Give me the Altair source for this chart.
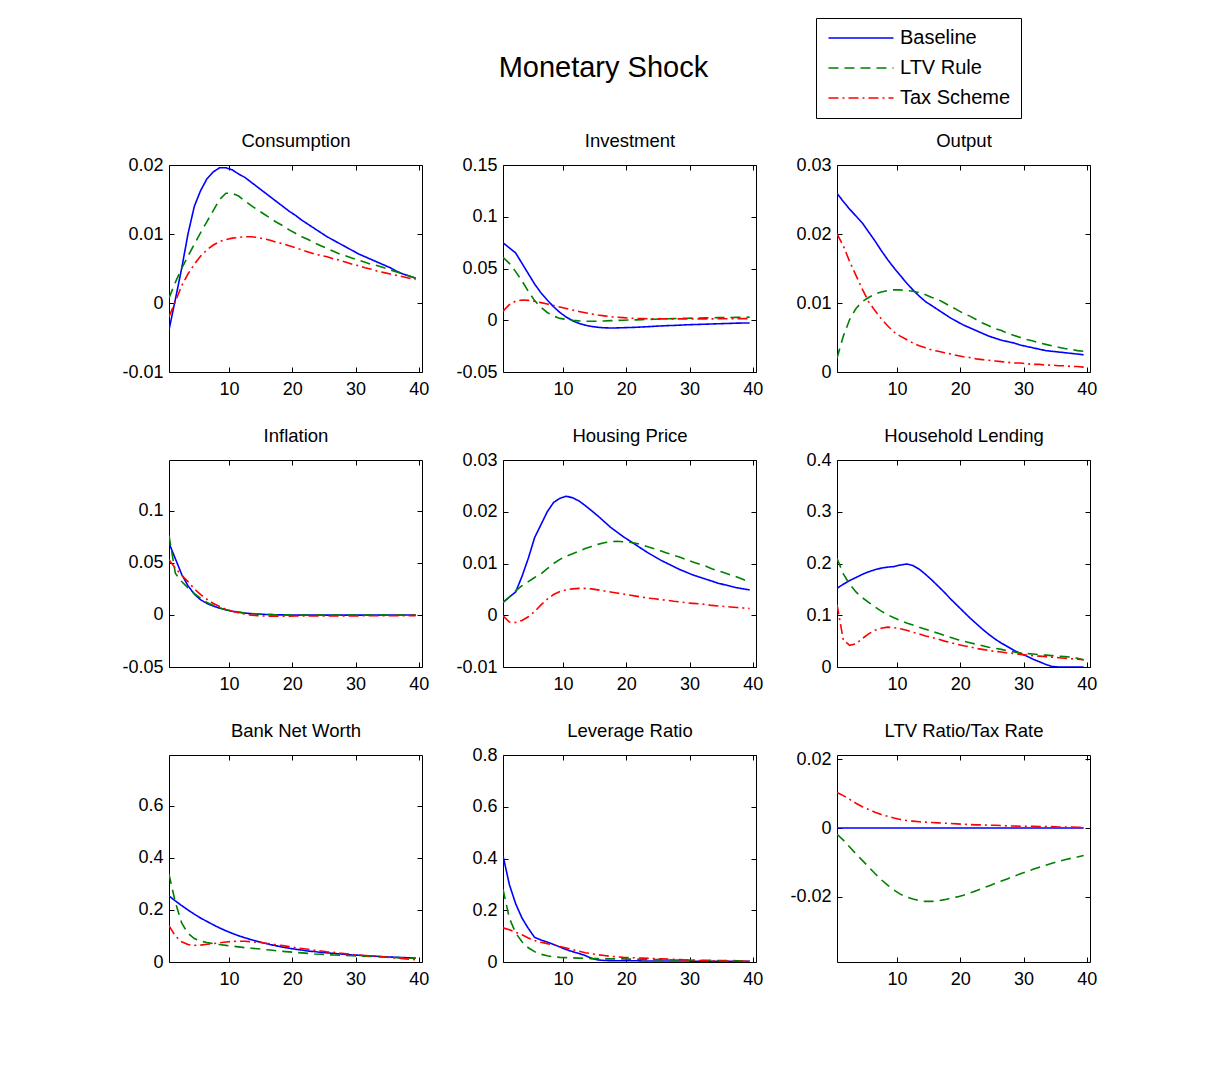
import altair as alt
import pandas as pd

FONT = "Liberation Sans"

periods = list(range(1, 41))
series_names = ["Baseline", "LTV Rule", "Tax Scheme"]
series_colors = ["#0000ff", "#008000", "#ff0000"]
series_dashes = [[1, 0], [10, 6], [10, 4, 2, 4]]
x_ticks = [10, 20, 30, 40]

panel_titles = ["Consumption", "Investment", "Output",
                "Inflation", "Housing Price", "Household Lending",
                "Bank Net Worth", "Leverage Ratio", "LTV Ratio/Tax Rate"]

y_domains = [[-0.01, 0.02], [-0.05, 0.15], [0, 0.03],
             [-0.05, 0.1487], [-0.01, 0.03], [0, 0.4],
             [0, 0.796], [0, 0.8], [-0.0389, 0.0212]]

y_ticks = [[-0.01, 0, 0.01, 0.02], [-0.05, 0, 0.05, 0.1, 0.15], [0, 0.01, 0.02, 0.03],
           [-0.05, 0, 0.05, 0.1], [-0.01, 0, 0.01, 0.02, 0.03], [0, 0.1, 0.2, 0.3, 0.4],
           [0, 0.2, 0.4, 0.6], [0, 0.2, 0.4, 0.6, 0.8], [-0.02, 0, 0.02]]

consumption_baseline = [-0.0039, 0.0005, 0.0050, 0.0100, 0.0140, 0.0163, 0.0180, 0.0190, 0.0196, 0.0196,
                        0.0193, 0.0187, 0.0182, 0.0175, 0.0168, 0.0161, 0.0154, 0.0147, 0.0140, 0.0133,
                        0.0127, 0.0120, 0.0114, 0.0108, 0.0102, 0.0096, 0.0091, 0.0086, 0.0081, 0.0076,
                        0.0071, 0.0067, 0.0063, 0.0059, 0.0055, 0.0051, 0.0046, 0.0042, 0.0039, 0.0036]
consumption_ltv = [0.0007, 0.0030, 0.0050, 0.0068, 0.0085, 0.0102, 0.0118, 0.0134, 0.0150, 0.0159,
                   0.0159, 0.0155, 0.0148, 0.0141, 0.0135, 0.0129, 0.0123, 0.0117, 0.0112, 0.0106,
                   0.0101, 0.0096, 0.0092, 0.0087, 0.0083, 0.0079, 0.0075, 0.0071, 0.0068, 0.0065,
                   0.0062, 0.0059, 0.0056, 0.0054, 0.0051, 0.0048, 0.0045, 0.0042, 0.0039, 0.0036]
consumption_tax = [-0.0020, 0.0002, 0.0025, 0.0042, 0.0056, 0.0068, 0.0077, 0.0084, 0.0089, 0.0092,
                   0.0094, 0.0095, 0.0096, 0.0096, 0.0095, 0.0093, 0.0091, 0.0088, 0.0086, 0.0083,
                   0.0080, 0.0077, 0.0074, 0.0071, 0.0069, 0.0067, 0.0064, 0.0062, 0.0059, 0.0056,
                   0.0054, 0.0051, 0.0049, 0.0046, 0.0044, 0.0042, 0.0040, 0.0038, 0.0036, 0.0034]

investment_baseline = [0.0748, 0.0700, 0.0650, 0.0550, 0.0450, 0.0350, 0.0265, 0.0195, 0.0130, 0.0075,
                       0.0030, -0.0005, -0.0030, -0.0048, -0.0060, -0.0068, -0.0073, -0.0075, -0.0074, -0.0072,
                       -0.0070, -0.0068, -0.0065, -0.0062, -0.0058, -0.0055, -0.0052, -0.0050, -0.0047, -0.0044,
                       -0.0042, -0.0040, -0.0038, -0.0036, -0.0034, -0.0032, -0.0030, -0.0028, -0.0027, -0.0026]
investment_ltv = [0.0608, 0.0550, 0.0470, 0.0380, 0.0280, 0.0190, 0.0125, 0.0075, 0.0040, 0.0018,
                  0.0008, 0.0000, -0.0006, -0.0009, -0.0010, -0.0009, -0.0007, -0.0004, -0.0002, 0.0000,
                  0.0002, 0.0004, 0.0006, 0.0008, 0.0010, 0.0012, 0.0014, 0.0016, 0.0018, 0.0019,
                  0.0021, 0.0022, 0.0023, 0.0024, 0.0025, 0.0026, 0.0027, 0.0028, 0.0029, 0.0030]
investment_tax = [0.0088, 0.0150, 0.0185, 0.0195, 0.0192, 0.0183, 0.0170, 0.0157, 0.0143, 0.0128,
                  0.0113, 0.0099, 0.0085, 0.0072, 0.0060, 0.0050, 0.0042, 0.0035, 0.0029, 0.0025,
                  0.0021, 0.0018, 0.0016, 0.0015, 0.0014, 0.0013, 0.0013, 0.0013, 0.0013, 0.0013,
                  0.0013, 0.0013, 0.0013, 0.0013, 0.0014, 0.0014, 0.0015, 0.0015, 0.0016, 0.0016]

output_baseline = [0.0259, 0.0247, 0.0236, 0.0226, 0.0216, 0.0203, 0.0190, 0.0176, 0.0163, 0.0151,
                   0.0140, 0.0129, 0.0119, 0.0110, 0.0102, 0.0096, 0.0090, 0.0084, 0.0078, 0.0073,
                   0.0068, 0.0064, 0.0060, 0.0056, 0.0052, 0.0049, 0.0046, 0.0044, 0.0042, 0.0039,
                   0.0037, 0.0035, 0.0033, 0.0031, 0.0030, 0.0029, 0.0028, 0.0027, 0.0026, 0.0025]
output_ltv = [0.0020, 0.0052, 0.0076, 0.0092, 0.0102, 0.0108, 0.0113, 0.0116, 0.0118, 0.0119,
              0.0119, 0.0118, 0.0117, 0.0115, 0.0112, 0.0108, 0.0105, 0.0100, 0.0095, 0.0090,
              0.0085, 0.0081, 0.0076, 0.0071, 0.0067, 0.0063, 0.0060, 0.0056, 0.0053, 0.0050,
              0.0047, 0.0045, 0.0042, 0.0040, 0.0038, 0.0036, 0.0034, 0.0033, 0.0031, 0.0030]
output_tax = [0.0200, 0.0183, 0.0160, 0.0140, 0.0120, 0.0102, 0.0089, 0.0077, 0.0067, 0.0058,
              0.0052, 0.0047, 0.0042, 0.0038, 0.0035, 0.0032, 0.0030, 0.0028, 0.0026, 0.0024,
              0.0022, 0.0021, 0.0019, 0.0018, 0.0017, 0.0016, 0.0015, 0.0014, 0.0013, 0.0013,
              0.0012, 0.0011, 0.0011, 0.0010, 0.0010, 0.0009, 0.0009, 0.0008, 0.0008, 0.0007]

inflation_baseline = [0.0690, 0.0540, 0.0390, 0.0280, 0.0200, 0.0145, 0.0110, 0.0085, 0.0065, 0.0048,
                      0.0035, 0.0025, 0.0018, 0.0012, 0.0008, 0.0005, 0.0003, 0.0001, 0.0000, -0.0001,
                      -0.0002, -0.0002, -0.0002, -0.0002, -0.0002, -0.0002, -0.0002, -0.0002, -0.0002, -0.0002,
                      -0.0002, -0.0002, -0.0002, -0.0002, -0.0001, -0.0001, -0.0001, -0.0001, -0.0001, -0.0001]
inflation_ltv = [0.0763, 0.0400, 0.0320, 0.0260, 0.0205, 0.0160, 0.0120, 0.0090, 0.0068, 0.0050,
                 0.0037, 0.0027, 0.0019, 0.0013, 0.0009, 0.0005, 0.0003, 0.0001, 0.0000, -0.0001,
                 -0.0002, -0.0002, -0.0002, -0.0002, -0.0002, -0.0002, -0.0002, -0.0002, -0.0002, -0.0002,
                 -0.0002, -0.0002, -0.0002, -0.0002, -0.0002, -0.0001, -0.0001, -0.0001, -0.0001, -0.0001]
inflation_tax = [0.0530, 0.0450, 0.0380, 0.0320, 0.0250, 0.0195, 0.0150, 0.0110, 0.0080, 0.0055,
                 0.0035, 0.0020, 0.0008, -0.0002, -0.0007, -0.0010, -0.0012, -0.0012, -0.0012, -0.0012,
                 -0.0011, -0.0011, -0.0011, -0.0010, -0.0010, -0.0010, -0.0010, -0.0009, -0.0009, -0.0009,
                 -0.0009, -0.0008, -0.0008, -0.0008, -0.0008, -0.0008, -0.0007, -0.0007, -0.0007, -0.0007]

housing_baseline = [0.0025, 0.0035, 0.0045, 0.0075, 0.0110, 0.0150, 0.0175, 0.0200, 0.0218, 0.0226,
                    0.0230, 0.0227, 0.0221, 0.0212, 0.0202, 0.0192, 0.0181, 0.0170, 0.0161, 0.0152,
                    0.0144, 0.0136, 0.0128, 0.0120, 0.0113, 0.0106, 0.0100, 0.0094, 0.0088, 0.0083,
                    0.0078, 0.0074, 0.0070, 0.0066, 0.0062, 0.0059, 0.0056, 0.0053, 0.0051, 0.0049]
housing_ltv = [0.0025, 0.0035, 0.0047, 0.0057, 0.0065, 0.0073, 0.0080, 0.0090, 0.0100, 0.0108,
               0.0114, 0.0119, 0.0124, 0.0129, 0.0133, 0.0137, 0.0140, 0.0142, 0.0143, 0.0142,
               0.0141, 0.0139, 0.0136, 0.0132, 0.0128, 0.0124, 0.0120, 0.0116, 0.0112, 0.0107,
               0.0103, 0.0099, 0.0095, 0.0090, 0.0086, 0.0082, 0.0078, 0.0074, 0.0069, 0.0064]
housing_tax = [-0.0001, -0.0013, -0.0014, -0.0010, -0.0003, 0.0007, 0.0020, 0.0031, 0.0040, 0.0046,
               0.0049, 0.0051, 0.0052, 0.0052, 0.0051, 0.0049, 0.0047, 0.0045, 0.0043, 0.0041,
               0.0039, 0.0037, 0.0035, 0.0033, 0.0032, 0.0030, 0.0029, 0.0027, 0.0026, 0.0024,
               0.0023, 0.0022, 0.0021, 0.0019, 0.0018, 0.0017, 0.0016, 0.0015, 0.0014, 0.0013]

lending_baseline = [0.152, 0.160, 0.167, 0.173, 0.179, 0.184, 0.188, 0.191, 0.193, 0.194,
                    0.197, 0.199, 0.196, 0.189, 0.179, 0.168, 0.156, 0.144, 0.131, 0.119,
                    0.107, 0.095, 0.084, 0.073, 0.063, 0.054, 0.046, 0.039, 0.032, 0.026,
                    0.021, 0.015, 0.010, 0.005, 0.001, 0.000, 0.000, 0.000, 0.000, 0.000]
lending_ltv = [0.210, 0.180, 0.160, 0.145, 0.134, 0.125, 0.116, 0.108, 0.101, 0.095,
               0.090, 0.085, 0.081, 0.077, 0.073, 0.069, 0.065, 0.061, 0.057, 0.053,
               0.050, 0.047, 0.044, 0.041, 0.038, 0.036, 0.034, 0.031, 0.029, 0.027,
               0.026, 0.025, 0.024, 0.023, 0.022, 0.021, 0.020, 0.019, 0.017, 0.014]
lending_tax = [0.121, 0.052, 0.042, 0.045, 0.055, 0.064, 0.071, 0.075, 0.077, 0.076,
               0.074, 0.071, 0.067, 0.064, 0.060, 0.057, 0.054, 0.050, 0.047, 0.044,
               0.041, 0.039, 0.036, 0.034, 0.032, 0.030, 0.029, 0.027, 0.026, 0.024,
               0.023, 0.022, 0.021, 0.020, 0.019, 0.018, 0.017, 0.016, 0.015, 0.014]

networth_baseline = [0.254, 0.235, 0.217, 0.200, 0.184, 0.169, 0.156, 0.143, 0.131, 0.120,
                     0.110, 0.101, 0.093, 0.086, 0.079, 0.073, 0.067, 0.062, 0.057, 0.053,
                     0.049, 0.046, 0.042, 0.040, 0.037, 0.035, 0.033, 0.031, 0.029, 0.027,
                     0.026, 0.024, 0.023, 0.022, 0.020, 0.019, 0.018, 0.017, 0.016, 0.015]
networth_ltv = [0.338, 0.230, 0.150, 0.110, 0.090, 0.080, 0.075, 0.071, 0.067, 0.064,
                0.061, 0.058, 0.055, 0.053, 0.051, 0.048, 0.046, 0.043, 0.041, 0.039,
                0.037, 0.035, 0.033, 0.031, 0.030, 0.028, 0.027, 0.026, 0.025, 0.024,
                0.023, 0.022, 0.021, 0.020, 0.019, 0.018, 0.017, 0.016, 0.015, 0.015]
networth_tax = [0.140, 0.100, 0.078, 0.067, 0.064, 0.065, 0.068, 0.071, 0.074, 0.077,
                0.079, 0.080, 0.080, 0.078, 0.076, 0.073, 0.070, 0.066, 0.063, 0.059,
                0.055, 0.052, 0.049, 0.045, 0.042, 0.039, 0.037, 0.034, 0.032, 0.029,
                0.027, 0.025, 0.023, 0.021, 0.019, 0.017, 0.015, 0.013, 0.011, 0.009]

leverage_baseline = [0.411, 0.300, 0.225, 0.170, 0.130, 0.095, 0.085, 0.077, 0.068, 0.058,
                     0.048, 0.040, 0.033, 0.025, 0.014, 0.008, 0.006, 0.005, 0.005, 0.005,
                     0.005, 0.005, 0.004, 0.004, 0.004, 0.004, 0.004, 0.004, 0.004, 0.004,
                     0.003, 0.003, 0.003, 0.003, 0.003, 0.003, 0.003, 0.003, 0.003, 0.003]
leverage_ltv = [0.281, 0.170, 0.112, 0.078, 0.055, 0.040, 0.030, 0.024, 0.020, 0.018,
                0.017, 0.016, 0.015, 0.014, 0.013, 0.013, 0.012, 0.012, 0.012, 0.012,
                0.011, 0.011, 0.010, 0.010, 0.009, 0.009, 0.009, 0.008, 0.008, 0.008,
                0.007, 0.007, 0.007, 0.006, 0.006, 0.006, 0.006, 0.005, 0.005, 0.005]
leverage_tax = [0.132, 0.125, 0.115, 0.105, 0.093, 0.083, 0.076, 0.071, 0.066, 0.060,
                0.054, 0.048, 0.042, 0.036, 0.032, 0.028, 0.025, 0.022, 0.020, 0.018,
                0.017, 0.016, 0.015, 0.014, 0.013, 0.012, 0.011, 0.010, 0.009, 0.008,
                0.007, 0.006, 0.005, 0.005, 0.004, 0.004, 0.003, 0.003, 0.003, 0.003]

ltvtax_baseline = [0.0, 0.0, 0.0, 0.0, 0.0, 0.0, 0.0, 0.0, 0.0, 0.0,
                   0.0, 0.0, 0.0, 0.0, 0.0, 0.0, 0.0, 0.0, 0.0, 0.0,
                   0.0, 0.0, 0.0, 0.0, 0.0, 0.0, 0.0, 0.0, 0.0, 0.0,
                   0.0, 0.0, 0.0, 0.0, 0.0, 0.0, 0.0, 0.0, 0.0, 0.0]
ltvtax_ltv = [-0.0018, -0.0035, -0.0055, -0.0075, -0.0094, -0.0113, -0.0132, -0.0150, -0.0166, -0.0180,
              -0.0192, -0.0200, -0.0206, -0.0211, -0.0213, -0.0213, -0.0211, -0.0208, -0.0204, -0.0200,
              -0.0195, -0.0189, -0.0182, -0.0175, -0.0168, -0.0161, -0.0154, -0.0147, -0.0140, -0.0133,
              -0.0126, -0.0120, -0.0114, -0.0108, -0.0102, -0.0097, -0.0092, -0.0088, -0.0084, -0.0080]
ltvtax_tax = [0.0103, 0.0094, 0.0083, 0.0072, 0.0062, 0.0054, 0.0046, 0.0039, 0.0034, 0.0029,
              0.0025, 0.0022, 0.0020, 0.0018, 0.0017, 0.0016, 0.0015, 0.0014, 0.0013, 0.0012,
              0.0011, 0.0010, 0.0009, 0.0009, 0.0008, 0.0008, 0.0007, 0.0006, 0.0006, 0.0005,
              0.0005, 0.0005, 0.0004, 0.0004, 0.0004, 0.0003, 0.0003, 0.0003, 0.0002, 0.0002]

panel_series = [
    (consumption_baseline, consumption_ltv, consumption_tax),
    (investment_baseline, investment_ltv, investment_tax),
    (output_baseline, output_ltv, output_tax),
    (inflation_baseline, inflation_ltv, inflation_tax),
    (housing_baseline, housing_ltv, housing_tax),
    (lending_baseline, lending_ltv, lending_tax),
    (networth_baseline, networth_ltv, networth_tax),
    (leverage_baseline, leverage_ltv, leverage_tax),
    (ltvtax_baseline, ltvtax_ltv, ltvtax_tax),
]

W, H = 253, 207
LABEL_EXPR = "'' + datum.value"

legend = alt.Legend(
    orient="none", legendX=647, legendY=-147, direction="vertical",
    symbolType="M-5,0H5", symbolSize=169, symbolStrokeWidth=1.5,
    symbolOffset=25, labelOffset=29,
    labelFont=FONT, labelFontSize=20, labelColor="black",
    labelExpr="datum.label + '\u00a0\u00a0\u00a0'",
    strokeColor="black", fillColor="white", padding=10, rowPadding=10,
)

color_scale = alt.Scale(domain=series_names, range=series_colors)
dash_scale = alt.Scale(domain=series_names, range=series_dashes)
x_scale = alt.Scale(domain=[0.5, 40.5], nice=False, zero=False)


def make_panel(i):
    recs = []
    for name, vals in zip(series_names, panel_series[i]):
        for p, v in zip(periods, vals):
            recs.append({"period": p, "series": name, "value": v})
    df = pd.DataFrame(recs)
    y_scale = alt.Scale(domain=y_domains[i], nice=False, zero=False)
    base = alt.Chart(df).transform_calculate(x="datum.period - 0.5")
    lines = base.mark_line(strokeWidth=1.6, clip=True).encode(
        x=alt.X("x:Q", scale=x_scale, title=None,
                axis=alt.Axis(orient="bottom", values=x_ticks, labelExpr=LABEL_EXPR,
                              labelPadding=8)),
        y=alt.Y("value:Q", scale=y_scale, title=None,
                axis=alt.Axis(orient="left", values=y_ticks[i], labelExpr=LABEL_EXPR,
                              labelPadding=6)),
        color=alt.Color("series:N", scale=color_scale, legend=legend, title=None),
        strokeDash=alt.StrokeDash("series:N", scale=dash_scale, legend=legend, title=None),
    )
    head = base.mark_point(opacity=0).encode(
        x=alt.X("x:Q", scale=x_scale,
                axis=alt.Axis(orient="top", title=panel_titles[i], labels=False, ticks=False,
                              grid=False, domain=False, titleFont=FONT, titleFontSize=18.5,
                              titleFontWeight="normal", titleColor="black",
                              titleBaseline="alphabetic", titlePadding=19)),
    )
    return alt.layer(lines, head).properties(width=W, height=H)


rows = []
for r in range(3):
    rows.append(alt.hconcat(*[make_panel(3 * r + c) for c in range(3)], spacing=81, bounds="flush"))

rows[0] = rows[0].properties(title=alt.TitleParams(
    "Monetary Shock", font=FONT, fontSize=29, fontWeight="normal", color="black",
    anchor="middle", baseline="alphabetic", offset=25, dx=-6))

chart = alt.vconcat(*rows, spacing=26).properties(
    padding={"left": 113, "top": 9, "right": 5, "bottom": 5}
).configure_view(
    stroke="black", strokeWidth=1
).configure_axis(
    domain=False, ticks=False, labelFont=FONT, labelFontSize=18, labelColor="black",
    grid=True, gridColor="black", gridOpacity=1, gridWidth=1,
    labelOverlap=False, labelFlush=False
).configure_axisX(
    gridDash=[5, H - 10, 5, 2000]
).configure_axisY(
    gridDash=[5, W - 10, 5, 2000]
)

chart.save("out.html", embed_options={"renderer": "svg", "actions": False})
